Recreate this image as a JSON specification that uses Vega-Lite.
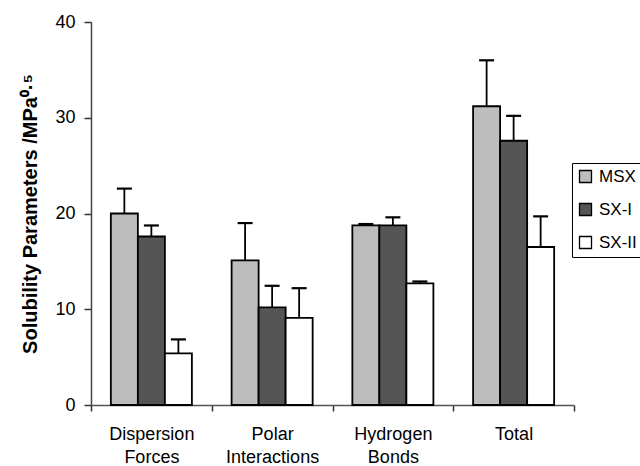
{
  "$schema": "https://vega.github.io/schema/vega-lite/v6.json",
  "width": 483,
  "height": 383,
  "autosize": "none",
  "padding": {"left": 91, "top": 22, "right": 66, "bottom": 61},
  "background": "white",
  "config": {"view": {"stroke": null}, "font": "Liberation Sans"},
  "data": {
    "values": [
      {"category": "Dispersion Forces", "series": "MSX", "value": 20.0, "upper": 22.6},
      {"category": "Dispersion Forces", "series": "SX-I", "value": 17.6, "upper": 18.75},
      {"category": "Dispersion Forces", "series": "SX-II", "value": 5.4, "upper": 6.85},
      {"category": "Polar Interactions", "series": "MSX", "value": 15.1, "upper": 19.0},
      {"category": "Polar Interactions", "series": "SX-I", "value": 10.2, "upper": 12.45},
      {"category": "Polar Interactions", "series": "SX-II", "value": 9.1, "upper": 12.2},
      {"category": "Hydrogen Bonds", "series": "MSX", "value": 18.75, "upper": 18.9},
      {"category": "Hydrogen Bonds", "series": "SX-I", "value": 18.75, "upper": 19.6},
      {"category": "Hydrogen Bonds", "series": "SX-II", "value": 12.7, "upper": 12.9},
      {"category": "Total", "series": "MSX", "value": 31.2, "upper": 36.0},
      {"category": "Total", "series": "SX-I", "value": 27.6, "upper": 30.2},
      {"category": "Total", "series": "SX-II", "value": 16.5, "upper": 19.7}
    ]
  },
  "encoding": {
    "x": {
      "field": "category",
      "type": "nominal",
      "sort": ["Dispersion Forces", "Polar Interactions", "Hydrogen Bonds", "Total"],
      "scale": {"paddingInner": 0, "paddingOuter": 0},
      "axis": {
        "title": null,
        "labelAngle": 0,
        "tickBand": "extent",
        "labelExpr": "split(datum.label, ' ')",
        "labelFontSize": 18,
        "labelLineHeight": 23,
        "labelPadding": 14,
        "labelColor": "black",
        "tickSize": 6,
        "tickColor": "#333333",
        "domainColor": "#555555",
        "domainWidth": 1.5,
        "tickWidth": 1.5
      }
    },
    "xOffset": {
      "field": "series",
      "type": "nominal",
      "sort": ["MSX", "SX-I", "SX-II"],
      "scale": {"paddingInner": 0, "paddingOuter": 0.735}
    }
  },
  "layer": [
    {
      "mark": {"type": "bar", "stroke": "black", "strokeWidth": 1.8},
      "encoding": {
        "y": {
          "field": "value",
          "type": "quantitative",
          "title": "Solubility Parameters /MPa⁰·⁵",
          "scale": {"domain": [0, 40], "nice": false},
          "axis": {
            "values": [0, 10, 20, 30, 40],
            "grid": false,
            "labelFontSize": 18,
            "labelColor": "black",
            "labelPadding": 9,
            "tickSize": 7,
            "tickColor": "#333333",
            "domainColor": "#444444",
            "domainWidth": 1.5,
            "tickWidth": 1.5,
            "titleFontSize": 20,
            "titleFontWeight": "bold",
            "titleColor": "black",
            "titlePadding": 14
          }
        },
        "fill": {
          "field": "series",
          "type": "nominal",
          "sort": ["MSX", "SX-I", "SX-II"],
          "scale": {"domain": ["MSX", "SX-I", "SX-II"], "range": ["#bdbdbd", "#555555", "#ffffff"]},
          "legend": {
            "orient": "none",
            "legendX": 481,
            "legendY": 141,
            "title": null,
            "symbolType": "square",
            "symbolStrokeColor": "black",
            "symbolStrokeWidth": 1.3,
            "symbolSize": 144,
            "symbolOpacity": 1,
            "labelFontSize": 17,
            "labelColor": "black",
            "labelOffset": 5,
            "strokeColor": "black",
            "padding": 5,
            "rowPadding": 14
          }
        }
      }
    },
    {
      "mark": {"type": "rule", "stroke": "black", "strokeWidth": 1.8},
      "encoding": {
        "y": {"field": "value", "type": "quantitative", "title": "Solubility Parameters /MPa⁰·⁵"},
        "y2": {"field": "upper"}
      }
    },
    {
      "mark": {"type": "tick", "color": "black", "thickness": 2.2, "size": 15, "orient": "horizontal", "opacity": 1},
      "encoding": {
        "y": {"field": "upper", "type": "quantitative", "title": "Solubility Parameters /MPa⁰·⁵"}
      }
    }
  ]
}
